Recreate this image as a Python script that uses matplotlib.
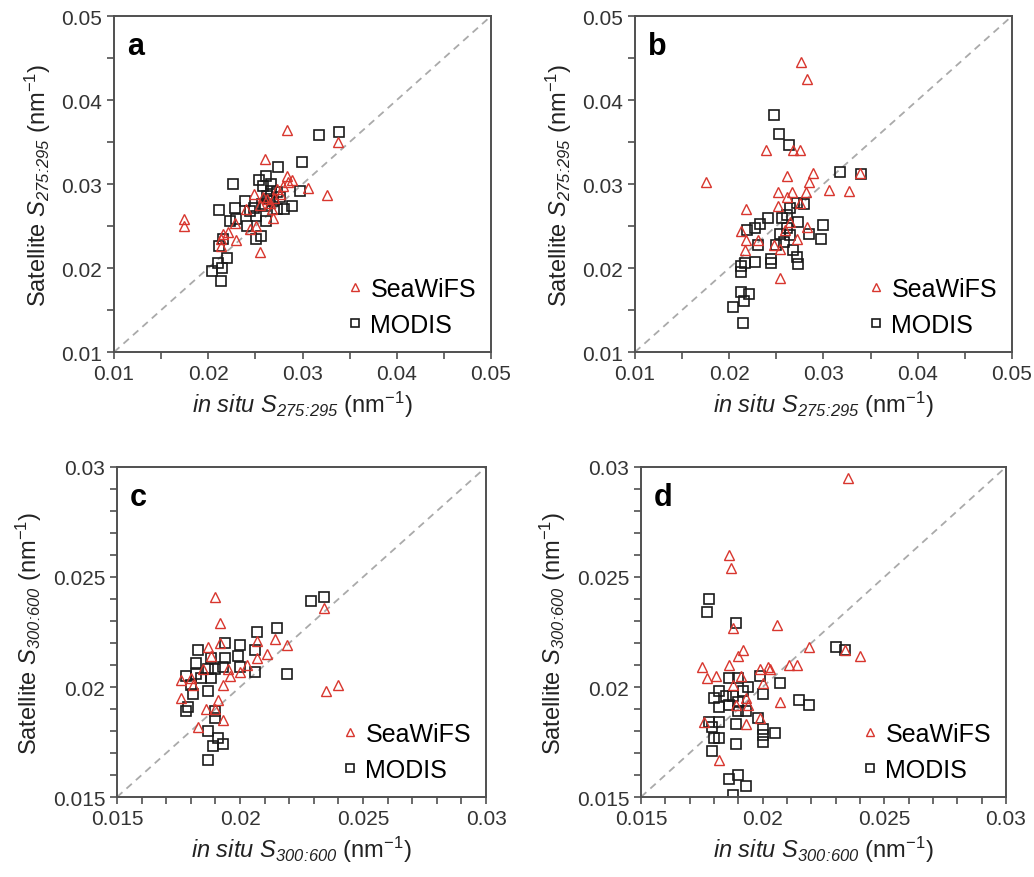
import numpy as np
import matplotlib
matplotlib.use('Agg')
import matplotlib.pyplot as plt
from matplotlib.ticker import MultipleLocator, FormatStrFormatter

plt.rcParams['font.family'] = ['Liberation Sans', 'DejaVu Sans']
plt.rcParams['mathtext.fontset'] = 'custom'
# every math glyph italic (digits in subscripts too); \mathregular stays upright
plt.rcParams['mathtext.rm'] = 'Liberation Sans:italic'
plt.rcParams['mathtext.it'] = 'Liberation Sans:italic'

# ---- panel a: S275:295, match-ups (in situ, satellite) ----
a_sw_x = [0.0284, 0.0338, 0.0260, 0.0283, 0.0289, 0.0306, 0.0326, 0.0174, 0.0174, 0.0221,
          0.0229, 0.0255, 0.0213, 0.0251, 0.0269, 0.0248, 0.0273, 0.0228, 0.0244, 0.0262,
          0.0265, 0.0258, 0.0270, 0.0276, 0.0268, 0.0255, 0.0240, 0.0279, 0.0285, 0.0213, 0.0216]
a_sw_y = [0.0364, 0.0350, 0.0330, 0.0310, 0.0305, 0.0295, 0.0287, 0.0258, 0.0250, 0.0243,
          0.0233, 0.0219, 0.0234, 0.0250, 0.0260, 0.0288, 0.0294, 0.0254, 0.0246, 0.0282,
          0.0278, 0.0285, 0.0283, 0.0288, 0.0270, 0.0275, 0.0270, 0.0298, 0.0303, 0.0226, 0.0240]
a_mo_x = [0.0317, 0.0339, 0.0299, 0.0274, 0.0226, 0.0254, 0.0261, 0.0297, 0.0289, 0.0280,
          0.0211, 0.0228, 0.0239, 0.0223, 0.0229, 0.0241, 0.0261, 0.0251, 0.0256, 0.0216,
          0.0211, 0.0220, 0.0210, 0.0204, 0.0215, 0.0214, 0.0258, 0.0266, 0.0273, 0.0262,
          0.0269, 0.0257, 0.0248, 0.0244, 0.0276, 0.0264, 0.0267, 0.0260, 0.0251, 0.0273]
a_mo_y = [0.0358, 0.0362, 0.0326, 0.0320, 0.0300, 0.0305, 0.0310, 0.0292, 0.0274, 0.0270,
          0.0269, 0.0271, 0.0280, 0.0256, 0.0258, 0.0250, 0.0256, 0.0235, 0.0238, 0.0235,
          0.0226, 0.0212, 0.0206, 0.0197, 0.0200, 0.0185, 0.0298, 0.0300, 0.0290, 0.0286,
          0.0280, 0.0276, 0.0272, 0.0268, 0.0284, 0.0282, 0.0292, 0.0274, 0.0262, 0.0270]

# ---- panel b: S275:295 ----
b_sw_x = [0.0276, 0.0283, 0.0239, 0.0268, 0.0275, 0.0175, 0.0261, 0.0289, 0.0285, 0.0306,
          0.0327, 0.0339, 0.0252, 0.0267, 0.0281, 0.0261, 0.0252, 0.0218, 0.0213, 0.0218,
          0.0231, 0.0217, 0.0254, 0.0247, 0.0264, 0.0272, 0.0282, 0.0254, 0.0275, 0.0259]
b_sw_y = [0.0445, 0.0425, 0.0340, 0.0340, 0.0340, 0.0303, 0.0310, 0.0313, 0.0303, 0.0293,
          0.0292, 0.0313, 0.0290, 0.0290, 0.0291, 0.0284, 0.0274, 0.0270, 0.0244, 0.0233,
          0.0233, 0.0221, 0.0188, 0.0227, 0.0255, 0.0235, 0.0249, 0.0223, 0.0278, 0.0245]
b_mo_x = [0.0247, 0.0253, 0.0263, 0.0318, 0.0340, 0.0279, 0.0272, 0.0265, 0.0261, 0.0256,
          0.0241, 0.0233, 0.0227, 0.0219, 0.0230, 0.0300, 0.0297, 0.0285, 0.0273, 0.0254,
          0.0265, 0.0258, 0.0268, 0.0272, 0.0273, 0.0244, 0.0244, 0.0227, 0.0217, 0.0213,
          0.0212, 0.0212, 0.0221, 0.0216, 0.0204, 0.0215, 0.0261, 0.0250]
b_mo_y = [0.0382, 0.0360, 0.0347, 0.0314, 0.0312, 0.0276, 0.0278, 0.0271, 0.0263, 0.0259,
          0.0259, 0.0253, 0.0248, 0.0245, 0.0227, 0.0251, 0.0234, 0.0241, 0.0255, 0.0241,
          0.0239, 0.0231, 0.0221, 0.0213, 0.0205, 0.0211, 0.0206, 0.0207, 0.0206, 0.0202,
          0.0195, 0.0172, 0.0169, 0.0161, 0.0154, 0.0135, 0.0248, 0.0227]

# ---- panel c: S300:600 ----
c_sw_x = [0.0190, 0.0192, 0.0234, 0.0235, 0.0240, 0.0207, 0.0214, 0.0219, 0.0211, 0.0207,
          0.0187, 0.0192, 0.0176, 0.0176, 0.0186, 0.0191, 0.0193, 0.0193, 0.0183, 0.0190,
          0.0188, 0.0195, 0.0200, 0.0203, 0.0185, 0.0181, 0.0180, 0.0196]
c_sw_y = [0.0241, 0.0229, 0.0236, 0.0198, 0.0201, 0.0221, 0.0222, 0.0219, 0.0215, 0.0213,
          0.0218, 0.0220, 0.0195, 0.0203, 0.0190, 0.0194, 0.0201, 0.0185, 0.0182, 0.0190,
          0.0214, 0.0208, 0.0207, 0.0210, 0.0208, 0.0201, 0.0204, 0.0205]
c_mo_x = [0.0229, 0.0234, 0.0215, 0.0207, 0.0194, 0.0200, 0.0206, 0.0183, 0.0182, 0.0188,
          0.0194, 0.0199, 0.0219, 0.0206, 0.0200, 0.0188, 0.0184, 0.0178, 0.0180, 0.0181,
          0.0187, 0.0179, 0.0178, 0.0190, 0.0190, 0.0187, 0.0191, 0.0189, 0.0193, 0.0187,
          0.0190, 0.0193, 0.0182, 0.0187]
c_mo_y = [0.0239, 0.0241, 0.0227, 0.0225, 0.0220, 0.0219, 0.0217, 0.0217, 0.0211, 0.0213,
          0.0213, 0.0214, 0.0206, 0.0207, 0.0209, 0.0204, 0.0204, 0.0205, 0.0201, 0.0197,
          0.0198, 0.0191, 0.0189, 0.0189, 0.0186, 0.0180, 0.0177, 0.0173, 0.0174, 0.0167,
          0.0208, 0.0209, 0.0206, 0.0208]

# ---- panel d: S300:600 ----
d_sw_x = [0.0235, 0.0186, 0.0187, 0.0206, 0.0188, 0.0219, 0.0234, 0.0240, 0.0192, 0.0190,
          0.0175, 0.0177, 0.0181, 0.0186, 0.0199, 0.0202, 0.0203, 0.0211, 0.0214, 0.0200,
          0.0207, 0.0176, 0.0193, 0.0182, 0.0199, 0.0191, 0.0193, 0.0189, 0.0194, 0.0188]
d_sw_y = [0.0295, 0.0260, 0.0254, 0.0228, 0.0227, 0.0218, 0.0217, 0.0214, 0.0217, 0.0214,
          0.0209, 0.0204, 0.0205, 0.0210, 0.0208, 0.0209, 0.0208, 0.0210, 0.0210, 0.0202,
          0.0193, 0.0184, 0.0183, 0.0167, 0.0186, 0.0205, 0.0195, 0.0192, 0.0192, 0.0201]
d_mo_x = [0.0178, 0.0177, 0.0189, 0.0230, 0.0234, 0.0199, 0.0207, 0.0186, 0.0190, 0.0194,
          0.0182, 0.0185, 0.0188, 0.0200, 0.0215, 0.0219, 0.0180, 0.0182, 0.0186, 0.0190,
          0.0193, 0.0189, 0.0198, 0.0200, 0.0178, 0.0179, 0.0182, 0.0205, 0.0200, 0.0200,
          0.0180, 0.0182, 0.0179, 0.0189, 0.0186, 0.0190, 0.0193, 0.0188, 0.0190, 0.0192]
d_mo_y = [0.0240, 0.0234, 0.0229, 0.0218, 0.0217, 0.0205, 0.0202, 0.0204, 0.0204, 0.0200,
          0.0198, 0.0196, 0.0196, 0.0197, 0.0194, 0.0192, 0.0195, 0.0191, 0.0192, 0.0189,
          0.0189, 0.0183, 0.0186, 0.0181, 0.0184, 0.0182, 0.0184, 0.0179, 0.0178, 0.0175,
          0.0177, 0.0177, 0.0171, 0.0174, 0.0158, 0.0160, 0.0155, 0.0151, 0.0193, 0.0198]

LBL_275 = r'$S_{275\!:\!295}$'
LBL_300 = r'$S_{300\!:\!600}$'

panels = [
    ('a', [0.1103, 0.5979, 0.3646, 0.3827], (0.01, 0.05), 0.01, 0.005, '%.2f', LBL_275,
     a_sw_x, a_sw_y, a_mo_x, a_mo_y),
    ('b', [0.6141, 0.5979, 0.3646, 0.3827], (0.01, 0.05), 0.01, 0.005, '%.2f', LBL_275,
     b_sw_x, b_sw_y, b_mo_x, b_mo_y),
    ('c', [0.1132, 0.0911, 0.3569, 0.3759], (0.015, 0.03), 0.005, 0.001, '%g', LBL_300,
     c_sw_x, c_sw_y, c_mo_x, c_mo_y),
    ('d', [0.6199, 0.0911, 0.3530, 0.3759], (0.015, 0.03), 0.005, 0.001, '%g', LBL_300,
     d_sw_x, d_sw_y, d_mo_x, d_mo_y),
]

RED = '#d8362e'
SPINE = '#505050'

fig = plt.figure(figsize=(10.34, 8.78), dpi=100)

for letter, rect, lim, major, minor, fmt, sym, swx, swy, mox, moy in panels:
    ax = fig.add_axes(rect)
    ax.plot(lim, lim, ls=(0, (4, 3)), color='#aaaaaa', lw=1.3, zorder=1)
    ax.plot(swx, swy, ls='none', marker='^', ms=7.5, mfc='none', mec=RED, mew=1.0,
            label='SeaWiFS', zorder=3)
    ax.plot(mox, moy, ls='none', marker='s', ms=7.8, mfc='none', mec='#1a1a1a', mew=1.2,
            label='MODIS', zorder=2)
    ax.set_xlim(lim)
    ax.set_ylim(lim)
    ax.xaxis.set_major_locator(MultipleLocator(major))
    ax.yaxis.set_major_locator(MultipleLocator(major))
    ax.xaxis.set_minor_locator(MultipleLocator(minor))
    ax.yaxis.set_minor_locator(MultipleLocator(minor))
    ax.xaxis.set_major_formatter(FormatStrFormatter(fmt))
    ax.yaxis.set_major_formatter(FormatStrFormatter(fmt))
    ax.tick_params(which='both', direction='out', color=SPINE, width=1.2,
                   labelsize=15, labelcolor='#333333', length=5)
    for s in ax.spines.values():
        s.set_color(SPINE)
        s.set_linewidth(1.4)
    ax.set_xlabel(r'$in\ situ\ $' + sym + r' (nm$^{\mathregular{-1}}$)',
                  fontsize=17, color='#222222', labelpad=4)
    ax.set_ylabel('Satellite ' + sym + r' (nm$^{\mathregular{-1}}$)',
                  fontsize=17, color='#222222', labelpad=6)
    ax.text(0.035, 0.955, letter, transform=ax.transAxes, fontsize=22,
            fontweight='bold', va='top', ha='left')
    ax.legend(loc='lower right', frameon=False, fontsize=18, markerscale=0.75,
              handlelength=0.6, handletextpad=0.3, labelspacing=0.5,
              borderaxespad=0.2)

fig.savefig('out.png', dpi=100)
